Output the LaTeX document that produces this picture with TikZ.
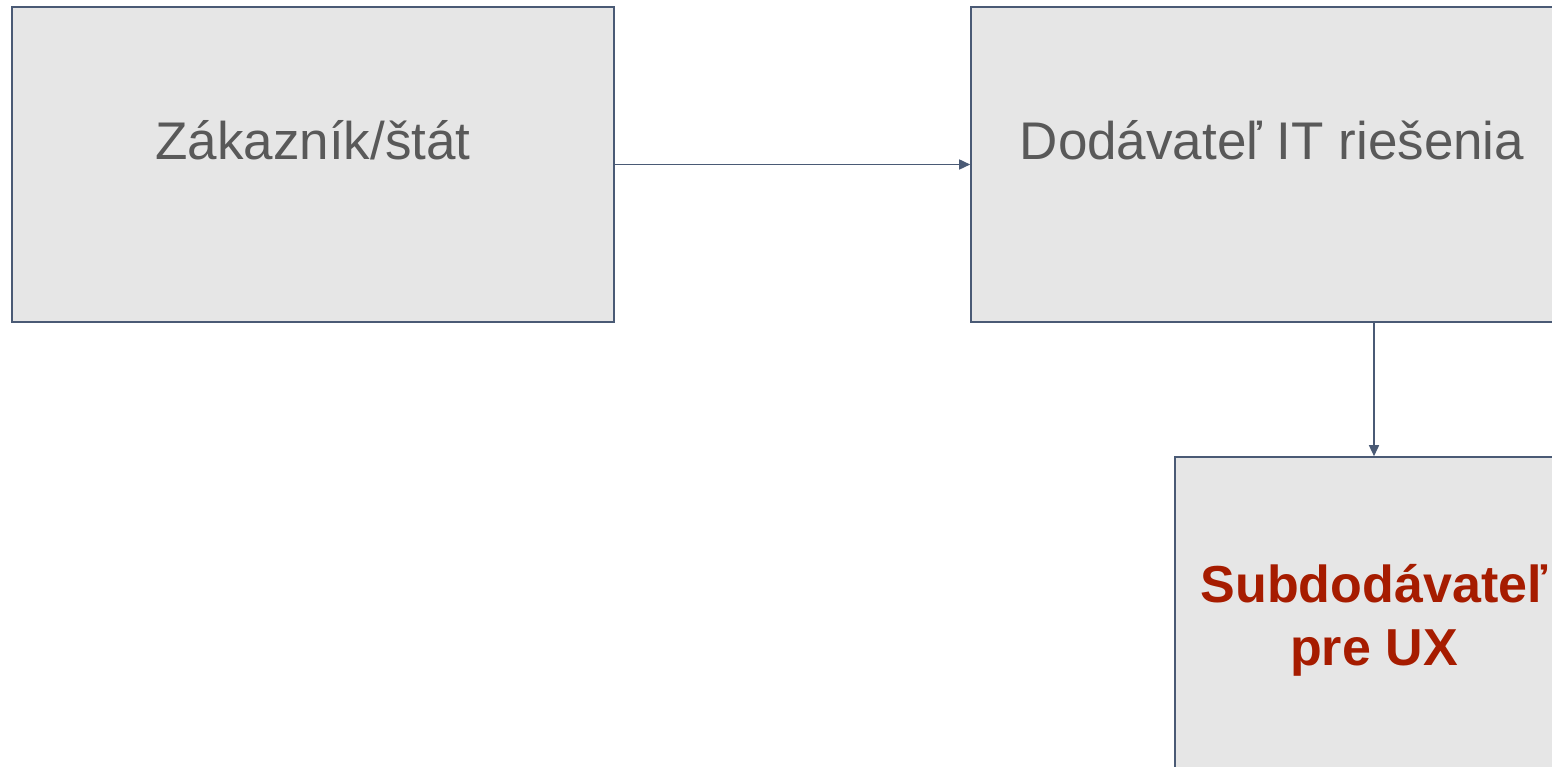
\documentclass[tikz,border=0pt]{standalone}
\usepackage{fontspec}
\setmainfont{Liberation Sans}
\usetikzlibrary{arrows.meta}
\definecolor{boxfill}{HTML}{E6E6E6}
\definecolor{boxline}{HTML}{4A5A75}
\definecolor{txtgray}{HTML}{595959}
\definecolor{txtred}{HTML}{A61C00}
\tikzset{
  box/.style={draw=boxline, fill=boxfill, line width=1.6pt, minimum width=602pt, minimum height=315pt, inner sep=0pt},
  smallbox/.style={box, minimum width=398pt},
  lbl/.style={text=txtgray, font=\fontsize{53}{63}\selectfont},
  redlbl/.style={text=txtred, font=\fontsize{52}{63}\selectfont\bfseries, align=center},
  conn/.style={draw=boxline, line width=1.6pt, -{Triangle[length=11pt,width=10pt]}}
}
\begin{document}
\begin{tikzpicture}[x=1pt,y=-1pt]
\useasboundingbox (0,0) rectangle (1552,767);
\clip (0,0) rectangle (1552,767);
\node[box] (b1) at (313,164.5) {};
\node[box] (b2) at (1272,164.5) {};
\node[smallbox] (b3) at (1374,614.5) {};
\node[lbl] (t1) at (313,140) {Zákazník/štát};
\node[lbl] (t2) at (1272,140) {Dodávateľ IT riešenia};
\node[redlbl] (t3) at (1374,620) {Subdodávateľ\\pre UX};
\draw[conn] (b1.east) -- (b2.west);
\draw[conn] (b3.north |- b2.south) -- (b3.north);
\end{tikzpicture}
\end{document}
